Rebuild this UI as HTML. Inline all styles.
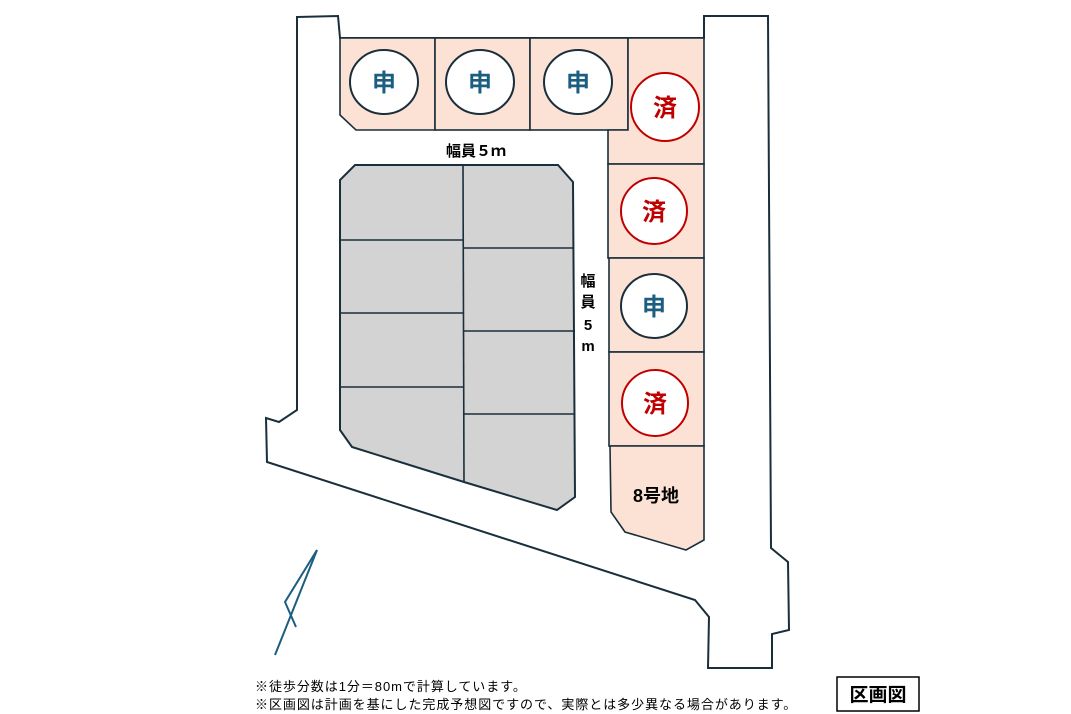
<!DOCTYPE html>
<html><head><meta charset="utf-8"><style>
body{margin:0;background:#fff;}
svg{display:block;}
text{font-family:"Liberation Sans","Noto Sans CJK JP",sans-serif;}
</style></head><body>
<svg width="1071" height="714" viewBox="0 0 1071 714" xmlns="http://www.w3.org/2000/svg">
<rect width="1071" height="714" fill="#fff"/>
<polygon points="297,17 338,16 340,38 704,38 704,16 768,16 771,548 788,562 789,630 772,634 772,668 708,668 709,617 695,600 267,462 266,418 279,422 297,410" fill="#fff" stroke="#1a2e3b" stroke-width="2"/>
<g fill="#fbe2d5" stroke="#1a2e3b" stroke-width="1.6">
<polygon points="340,38 435,38 435,130 356,130 340,115"/>
<rect x="435" y="38" width="95" height="92"/>
<rect x="530" y="38" width="98" height="92"/>
<polygon points="628,38 704,38 704,164 608,164 608,130 628,130"/>
<rect x="608" y="164" width="96" height="94"/>
<rect x="609" y="258" width="95" height="94"/>
<rect x="609" y="352" width="95" height="94"/>
<polygon points="610,446 704,446 704,540 686,550 625,532 611,512"/>
</g>
<polygon points="355,165 558,165 573,182 575,497 557,510 464,482 352,447 340,430 340,180" fill="#d3d3d3" stroke="#1a2e3b" stroke-width="2"/>
<g stroke="#1a2e3b" stroke-width="1.6" fill="none">
<line x1="463" y1="165" x2="464" y2="482"/>
<line x1="340" y1="240" x2="463" y2="240"/>
<line x1="340" y1="313" x2="463" y2="313"/>
<line x1="340" y1="387" x2="463" y2="387"/>
<line x1="463" y1="248" x2="574" y2="248"/>
<line x1="463" y1="331" x2="575" y2="331"/>
<line x1="463" y1="414" x2="575" y2="414"/>
</g>
<g stroke-width="2" fill="#fff">
<ellipse cx="384" cy="82" rx="34" ry="32" stroke="#1a2e3b"/>
<ellipse cx="480" cy="82" rx="34" ry="32" stroke="#1a2e3b"/>
<ellipse cx="578" cy="82" rx="34" ry="32" stroke="#1a2e3b"/>
<ellipse cx="654" cy="306" rx="33" ry="32" stroke="#1a2e3b"/>
<circle cx="665" cy="107" r="34" stroke="#c00000"/>
<circle cx="654" cy="211" r="33" stroke="#c00000"/>
<circle cx="655" cy="403" r="33" stroke="#c00000"/>
</g>
<g font-size="24" font-weight="bold" text-anchor="middle">
<text x="384" y="91" fill="#1b5e80">申</text>
<text x="480" y="91" fill="#1b5e80">申</text>
<text x="578" y="91" fill="#1b5e80">申</text>
<text x="654" y="315" fill="#1b5e80">申</text>
<text x="665" y="116" fill="#c00000">済</text>
<text x="654" y="220" fill="#c00000">済</text>
<text x="655" y="412" fill="#c00000">済</text>
</g>
<g font-size="15" font-weight="bold" text-anchor="middle" fill="#000">
<text x="476" y="156">幅員５ｍ</text>
<text x="588" y="286">幅</text>
<text x="588" y="307">員</text>
<text x="588" y="330">5</text>
<text x="588" y="351">m</text>
<text x="656" y="502" font-size="18">8号地</text>
</g>
<g stroke="#1b5e80" stroke-width="2" fill="none">
<polyline points="317,550 285,602 296,627"/>
<line x1="317" y1="550" x2="275" y2="655"/>
</g>
<g font-size="13" fill="#000" letter-spacing="0.95">
<text x="255" y="691">※徒歩分数は1分＝80mで計算しています。</text>
<text x="255" y="709">※区画図は計画を基にした完成予想図ですので、実際とは多少異なる場合があります。</text>
</g>
<rect x="837" y="677" width="82" height="34" fill="#fff" stroke="#000" stroke-width="1.5"/>
<text x="878" y="701" font-size="19" font-weight="bold" text-anchor="middle">区画図</text>
</svg>
</body></html>
